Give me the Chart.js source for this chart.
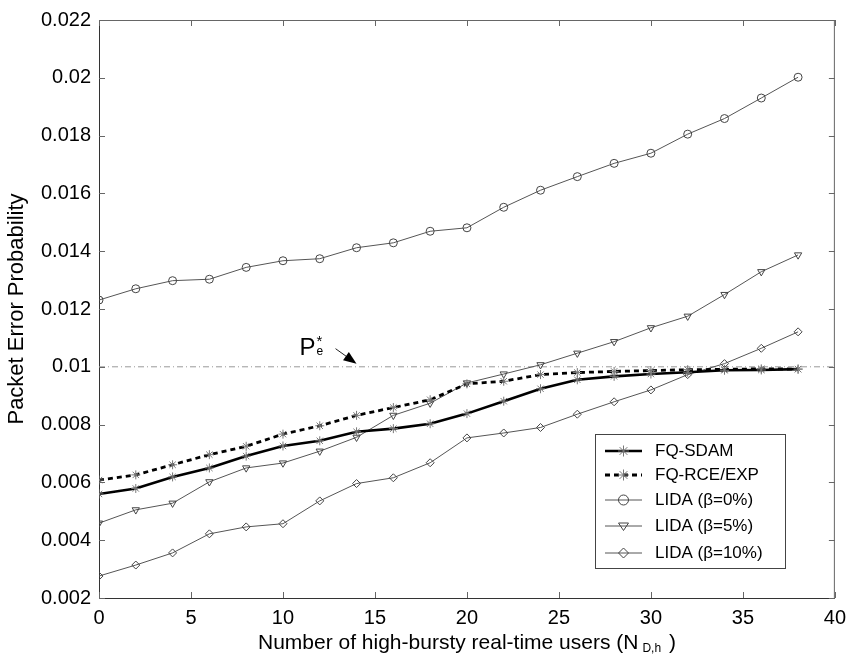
<!DOCTYPE html>
<html>
<head>
<meta charset="utf-8">
<script src="https://cdn.jsdelivr.net/npm/chart.js@4.4.1/dist/chart.umd.min.js"></script>
<style>
html,body{margin:0;padding:0;background:#fff;}
#wrap{width:854px;height:664px;position:relative;}
</style>
</head>
<body>
<div id="wrap"><canvas id="c" width="854" height="664"></canvas></div>
<script>
// ---- data ----
const xValues = [0,2,4,6,8,10,12,14,16,18,20,22,24,26,28,30,32,34,36,38];
const fqSdam   = [0.00560,0.00579,0.00619,0.00650,0.00691,0.00726,0.00744,0.00775,0.00786,0.00803,0.00838,0.00881,0.00924,0.00955,0.00967,0.00975,0.00981,0.00988,0.00989,0.00992];
const fqRceExp = [0.00608,0.00626,0.00661,0.00696,0.00725,0.00767,0.00796,0.00832,0.00859,0.00886,0.00941,0.00950,0.00973,0.00980,0.00984,0.00987,0.00990,0.00991,0.00993,0.00992];
const lida0    = [0.01231,0.01270,0.01298,0.01303,0.01344,0.01367,0.01374,0.01412,0.01429,0.01469,0.01481,0.01552,0.01611,0.01658,0.01704,0.01739,0.01805,0.01859,0.01930,0.02002];
const lida5    = [0.00459,0.00505,0.00528,0.00602,0.00650,0.00667,0.00708,0.00756,0.00832,0.00874,0.00944,0.00975,0.01007,0.01047,0.01087,0.01135,0.01175,0.01250,0.01329,0.01387];
const lida10   = [0.00276,0.00314,0.00356,0.00422,0.00446,0.00457,0.00536,0.00596,0.00616,0.00668,0.00754,0.00771,0.00790,0.00836,0.00879,0.00920,0.00973,0.01011,0.01064,0.01121];
const thresholdValue = 0.01;
const thresholdRange = [0, 40];
const seriesLabels = ['FQ-SDAM','FQ-RCE/EXP','LIDA (\u03B2=0%)','LIDA (\u03B2=5%)','LIDA (\u03B2=10%)'];
const xTitleMain = 'Number of high-bursty real-time users (N';
const xTitleSub = 'D,h';
const xTitleEnd = ' )';
const yTitle = 'Packet Error Probability';
const xTickRange = [0, 40, 5];
const yTickRange = [0.002, 0.022, 0.002];
const annotationPos = {x: 10.9, y: 0.01042};

const FONT = '"Liberation Sans", Arial, Helvetica, sans-serif';
const toXY = arr => arr.map((v,i)=>({x:xValues[i], y:v}));

const datasets = [
  {label: seriesLabels[0], data: toXY(fqSdam), borderColor:'#000', borderWidth:2.6,
   pointStyle:'star', pointRadius:4.5, pointBorderColor:'#777', pointBorderWidth:1, pointBackgroundColor:'transparent', mk:'star', dash:[]},
  {label: seriesLabels[1], data: toXY(fqRceExp), borderColor:'#000', borderWidth:2.8, borderDash:[5,4],
   pointStyle:'star', pointRadius:4.5, pointBorderColor:'#777', pointBorderWidth:1, pointBackgroundColor:'transparent', mk:'star', dash:[5,4]},
  {label: seriesLabels[2], data: toXY(lida0), borderColor:'#555', borderWidth:1,
   pointStyle:'circle', pointRadius:4, pointBorderColor:'#444', pointBorderWidth:1, pointBackgroundColor:'transparent', mk:'circle', dash:[]},
  {label: seriesLabels[3], data: toXY(lida5), borderColor:'#555', borderWidth:1,
   pointStyle:'triangle', pointRotation:180, pointRadius:4.2, pointBorderColor:'#444', pointBorderWidth:1, pointBackgroundColor:'transparent', mk:'tri', dash:[]},
  {label: seriesLabels[4], data: toXY(lida10), borderColor:'#555', borderWidth:1,
   pointStyle:'rectRot', pointRadius:4, pointBorderColor:'#444', pointBorderWidth:1, pointBackgroundColor:'transparent', mk:'diamond', dash:[]},
  {label: 'threshold', data: [{x:thresholdRange[0], y:thresholdValue},{x:thresholdRange[1], y:thresholdValue}],
   borderColor:'#999', borderWidth:1, borderDash:[6,3,1,3], pointRadius:0, isRef:true}
];

function drawMarker(ctx, kind, x, y, r){
  ctx.beginPath();
  if(kind==='circle'){ ctx.arc(x,y,r,0,Math.PI*2); }
  else if(kind==='tri'){ ctx.moveTo(x-r, y-r*0.6); ctx.lineTo(x+r, y-r*0.6); ctx.lineTo(x, y+r*0.9); ctx.closePath(); }
  else if(kind==='diamond'){ ctx.moveTo(x, y-r); ctx.lineTo(x+r, y); ctx.lineTo(x, y+r); ctx.lineTo(x-r, y); ctx.closePath(); }
  else if(kind==='star'){
    for(let k=0;k<4;k++){ const a=k*Math.PI/4; ctx.moveTo(x-Math.cos(a)*r, y-Math.sin(a)*r); ctx.lineTo(x+Math.cos(a)*r, y+Math.sin(a)*r); }
  }
  ctx.stroke();
}

const framePlugin = {
  id:'frame',
  afterDraw(chart){
    const {ctx, chartArea:a, scales:{x,y}} = chart;
    ctx.save();
    ctx.strokeStyle = '#666'; ctx.lineWidth = 1;
    ctx.beginPath();
    ctx.moveTo(a.left, a.top+0.5); ctx.lineTo(a.right, a.top+0.5);
    ctx.moveTo(a.right-0.5, a.top); ctx.lineTo(a.right-0.5, a.bottom);
    ctx.stroke();
    const L = 6;
    ctx.beginPath();
    x.ticks.forEach(t=>{
      const px = Math.round(x.getPixelForValue(t.value))+0.5;
      ctx.moveTo(px, a.bottom); ctx.lineTo(px, a.bottom-L);
      ctx.moveTo(px, a.top); ctx.lineTo(px, a.top+L);
    });
    y.ticks.forEach(t=>{
      const py = Math.round(y.getPixelForValue(t.value))+0.5;
      ctx.moveTo(a.left, py); ctx.lineTo(a.left+L, py);
      ctx.moveTo(a.right, py); ctx.lineTo(a.right-L, py);
    });
    ctx.stroke();

    // x axis title with subscript
    ctx.fillStyle = '#000';
    ctx.textBaseline = 'alphabetic';
    const mainFont = '21px ' + FONT, subFont = '12px ' + FONT;
    ctx.font = mainFont; const w1 = ctx.measureText(xTitleMain).width;
    const w3 = ctx.measureText(xTitleEnd).width;
    ctx.font = subFont; const w2 = ctx.measureText(xTitleSub).width + 6;
    const total = w1 + w2 + w3;
    const cx = (a.left + a.right)/2;
    let sx = cx - total/2;
    const base = 649;
    ctx.font = mainFont; ctx.textAlign='left';
    ctx.fillText(xTitleMain, sx, base);
    ctx.font = subFont; ctx.fillText(xTitleSub, sx + w1 + 4, base + 3);
    ctx.font = mainFont; ctx.fillText(xTitleEnd, sx + w1 + w2, base);

    // P_e^* annotation
    const ax = x.getPixelForValue(annotationPos.x), ay = y.getPixelForValue(annotationPos.y);
    ctx.font = '24px ' + FONT; ctx.fillText('P', ax, ay);
    const pw = ctx.measureText('P').width;
    ctx.font = '12px ' + FONT; ctx.fillText('e', ax + pw + 1, ay);
    ctx.font = '15px ' + FONT; ctx.fillText('*', ax + pw + 1, ay - 9);
    // arrow
    const x0 = ax + 36, y0 = ay - 6, x1 = ax + 57, y1 = ay + 9;
    ctx.strokeStyle = '#222'; ctx.lineWidth = 1;
    ctx.beginPath(); ctx.moveTo(x0, y0); ctx.lineTo(x1 - 6, y1 - 4.3); ctx.stroke();
    const ang = Math.atan2(y1-y0, x1-x0);
    ctx.fillStyle = '#000';
    ctx.beginPath();
    ctx.moveTo(x1, y1);
    ctx.lineTo(x1 - 13*Math.cos(ang) + 5*Math.sin(ang), y1 - 13*Math.sin(ang) - 5*Math.cos(ang));
    ctx.lineTo(x1 - 13*Math.cos(ang) - 5*Math.sin(ang), y1 - 13*Math.sin(ang) + 5*Math.cos(ang));
    ctx.closePath(); ctx.fill();

    // legend box
    const bx = 595, by = 434, bw = 190, bh = 134;
    ctx.fillStyle = '#fff'; ctx.fillRect(bx, by, bw, bh);
    ctx.strokeStyle = '#444'; ctx.lineWidth = 1;
    ctx.strokeRect(bx+0.5, by+0.5, bw, bh);
    const rows = [451, 475, 500, 526, 553];
    chart.data.datasets.filter(d=>!d.isRef).forEach((d,i)=>{
      const yy = rows[i];
      ctx.save();
      ctx.strokeStyle = d.borderColor; ctx.lineWidth = d.borderWidth;
      ctx.setLineDash(d.dash);
      ctx.beginPath(); ctx.moveTo(605, yy); ctx.lineTo(642, yy); ctx.stroke();
      ctx.setLineDash([]);
      ctx.strokeStyle = d.pointBorderColor; ctx.lineWidth = 1;
      drawMarker(ctx, d.mk, 623.5, yy, d.mk==='star'?5.5:5);
      ctx.restore();
      ctx.fillStyle = '#000'; ctx.font = '17px ' + FONT;
      ctx.textBaseline = 'middle'; ctx.textAlign = 'left';
      ctx.fillText(d.label, 655, yy);
    });
    ctx.restore();
  }
};

new Chart(document.getElementById('c'), {
  type: 'line',
  data: { datasets },
  options: {
    responsive:false, animation:false, devicePixelRatio:1,
    layout:{ padding:{ left:0, right:14, top:15, bottom:0 } },
    plugins:{ legend:{display:false}, tooltip:{enabled:false} },
    elements:{ line:{ tension:0 } },
    scales:{
      x:{ type:'linear', min:xTickRange[0], max:xTickRange[1],
        grid:{ display:false, drawTicks:false },
        border:{ display:true, color:'#333', width:1 },
        ticks:{ stepSize:xTickRange[2], color:'#000', font:{family:FONT, size:20}, padding:8, maxRotation:0 },
        afterFit(s){ s.height = 66; } },
      y:{ type:'linear', min:yTickRange[0], max:yTickRange[1],
        grid:{ display:false, drawTicks:false },
        border:{ display:true, color:'#333', width:1 },
        ticks:{ stepSize:yTickRange[2], color:'#000', font:{family:FONT, size:20}, padding:8,
          callback:v=>String(Number(v.toFixed(3))) },
        title:{ display:true, text:yTitle, color:'#000', font:{family:FONT, size:22}, padding:{top:4,bottom:0} },
        afterFit(s){ s.width = 99; } }
    }
  },
  plugins:[framePlugin]
});
</script>
</body>
</html>
